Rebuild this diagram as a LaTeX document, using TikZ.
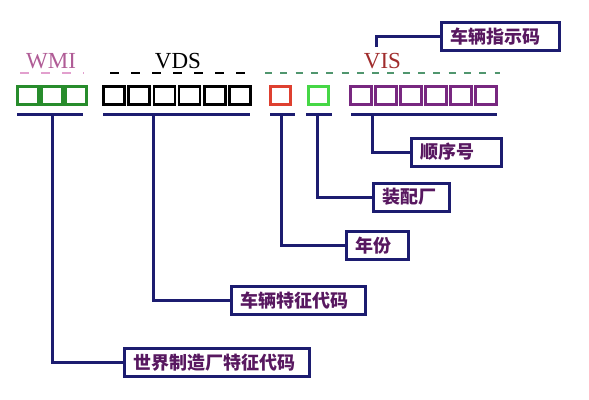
\documentclass[tikz,border=0pt]{standalone}
\usepackage{fontspec}
\usepackage{tikz}
\usetikzlibrary{calc}
\newfontfamily\cjk{Noto Sans CJK SC}
\newfontfamily\tnr{Liberation Serif}
\definecolor{navy}{RGB}{28,28,112}
\definecolor{labtext}{RGB}{88,24,96}
\definecolor{wmic}{RGB}{176,92,150}
\definecolor{wmidash}{RGB}{226,160,206}
\definecolor{visc}{RGB}{160,44,44}
\definecolor{visdash}{RGB}{80,150,110}
\definecolor{darkg}{RGB}{40,140,44}
\definecolor{lightg}{RGB}{70,215,70}
\definecolor{redc}{RGB}{222,64,48}
\definecolor{purp}{RGB}{120,40,128}

\begin{document}
\begin{tikzpicture}[x=1pt, y=-1pt,
  cell/.style={draw, line width=2.6pt, minimum width=21pt, minimum height=18.5pt,
               inner sep=0pt},
  lab/.style={draw=navy, line width=3pt, fill=white, text=labtext,
              font=\cjk\bfseries\fontsize{18}{20}\selectfont,
              minimum height=28pt, inner xsep=9pt, align=left, anchor=west},
  bar/.style={navy, line width=3pt},
  link/.style={navy, line width=3pt, line join=miter},
  part/.style={font=\tnr\fontsize{23}{26}\selectfont, anchor=base},
  dsh/.style={line width=2.2pt, dash pattern=on 9pt off 12pt},
]
\useasboundingbox (0,0) rectangle (589,399);

% group titles
\node[part, wmic] (wmi) at (51,68.5) {WMI};
\node[part, black] (vds) at (178,68.5) {VDS};
\node[part, visc] (vis) at (382.5,68.5) {VIS};
\draw[dsh, wmidash] (20,73) -- (84,73);
\draw[dsh, black] (110,73) -- (249,73);
\draw[dsh, visdash, dash pattern=on 7pt off 8.3pt] (265,73) -- (500,73);

% code cells
\foreach \i in {0,1,2}
  \node[cell, draw=darkg] (w\i) at (27.8+\i*24,95.5) {};
\foreach \i in {0,...,5}
  \node[cell, draw=black] (d\i) at (114+\i*25.2,95.5) {};
\node[cell, draw=redc, minimum width=20.5pt] (yr) at (280.5,95.5) {};
\node[cell, draw=lightg, minimum width=20.5pt] (pl) at (318.5,95.5) {};
\foreach \i in {0,...,5}
  \node[cell, draw=purp] (s\i) at (360.8+\i*25,95.5) {};

% under bars
\draw[bar] (17,114) -- (83,114);
\draw[bar] (103,114) -- (250,114);
\draw[bar] (270,114) -- (295,114);
\draw[bar] (306,114) -- (332,114);
\draw[bar] (351,114) -- (497,114);
\coordinate (wmib) at (52.5,114);
\coordinate (vdsb) at (153.5,114);
\coordinate (yrb) at (281,114);
\coordinate (plb) at (317.5,114);
\coordinate (seqb) at (372.5,114);
\coordinate (vist) at (376.5,47);

% labels
\node[lab, text width=100pt] (vin) at (440,36.5) {车辆指示码};
\node[lab, text width=72pt] (seq) at (410,152) {顺序号};
\node[lab, text width=58pt] (plant) at (372,197) {装配厂};
\node[lab, text width=44pt] (year) at (345,245.5) {年份};
\node[lab, text width=116pt] (vdsl) at (229.5,300.5) {车辆特征代码};
\node[lab, text width=167pt] (wmil) at (122.5,362.5) {世界制造厂特征代码};

% connectors
\draw[link] (vist) |- (vin.west);
\draw[link] (seqb) |- (seq.west);
\draw[link] (plb) |- (plant.west);
\draw[link] (yrb) |- (year.west);
\draw[link] (vdsb) |- (vdsl.west);
\draw[link] (wmib) |- (wmil.west);
\end{tikzpicture}
\end{document}
